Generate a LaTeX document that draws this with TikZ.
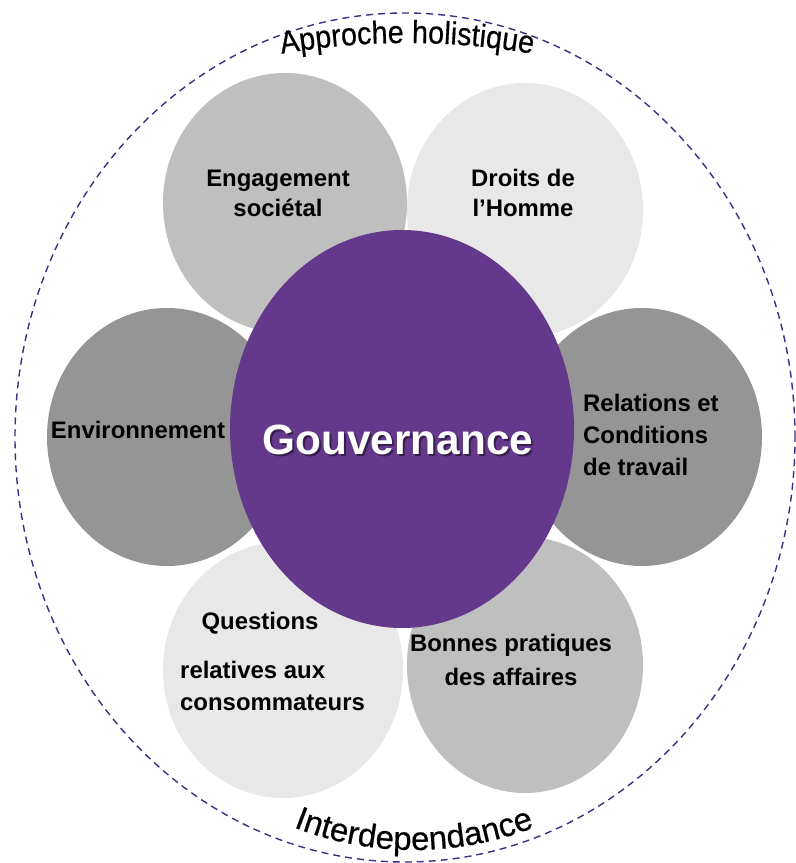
\documentclass[tikz,border=0pt]{standalone}
\usepackage{fontspec}
\setmainfont{Liberation Sans}
\newfontfamily\arcfont[FakeStretch=0.9, FakeBold=0.5]{Liberation Sans}
\newfontfamily\arcwidefont[FakeBold=0.5]{Liberation Sans}
\usetikzlibrary{shapes.geometric,decorations.text}

\definecolor{ringPurple}{HTML}{3F2D85}
\definecolor{gouvPurple}{HTML}{64388B}
\definecolor{midGray}{HTML}{BFBFBF}
\definecolor{paleGray}{HTML}{E8E8E8}
\definecolor{darkGray}{HTML}{959595}

\begin{document}
\begin{tikzpicture}[x=1bp,y=1bp]

    \tikzset{
      petal/.style={
        ellipse,
        draw=none,
        inner sep=0pt,
        minimum width=240bp,
        minimum height=258bp,
      },
      petaltext/.style={
        inner sep=0pt,
        text=black,
        font=\bfseries\fontsize{24}{30}\selectfont,
      },
    }
    \useasboundingbox (0,0) rectangle (796,863);

	% outer ring and its curved titles
	\draw[color={ringPurple}, line width=1.4bp, dash pattern=on 7bp off 5bp] (405,425.5) ellipse [x radius=390bp, y radius=424.5bp];
	\path[decorate, decoration={text along path, text align=center,
	  text={|\arcfont\fontsize{32}{32}\selectfont|Approche holistique}}]
	  (407,92) ++(110:728bp) arc[start angle=110, end angle=70, radius=728bp];
	\path[decorate, decoration={text along path, text align=center,
	  text={|\arcwidefont\fontsize{33}{33}\selectfont|Interdependance}}]
	  (414,343) ++(235:330bp) arc[start angle=235, end angle=305, radius=330bp];

	% the six petals
	\node[petal, fill=midGray, minimum width=244bp, minimum height=260bp] (engagement) at (285,660) {};
	\node[petal, fill=paleGray, minimum width=236bp, minimum height=254bp] (droits) at (525,653) {};
	\node[petal, fill=darkGray] (environnement) at (167,426) {};
	\node[petal, fill=darkGray] (relations) at (642,426) {};
	\node[petal, fill=paleGray, minimum height=256bp] (questions) at (283,193) {};
	\node[petal, fill=midGray, minimum width=236bp, minimum height=256bp] (bonnes) at (525,198) {};

	% centre
	\node[ellipse, fill=gouvPurple, inner sep=0pt, minimum width=344bp, minimum height=398bp] (gouvernance) at (402,434) {};
	\node[inner sep=0pt, text=black, opacity=0.45, font=\bfseries\fontsize{42.5}{42.5}\selectfont] (gouvShadow) at (400,421) {Gouvernance};
	\node[inner sep=0pt, text=white, font=\bfseries\fontsize{42.5}{42.5}\selectfont] (gouvText) at (398,423) {Gouvernance};

	\node[petaltext, align=center] (engagementText) at (278,670) {Engagement\\soci\'etal};
	\node[petaltext, align=center] (droitsText) at (523,670) {Droits de\\l’Homme};
	\node[petaltext] (environnementText) at (138,433) {Environnement};
	\node[petaltext, align=left, anchor=west, font=\bfseries\fontsize{24}{32.5}\selectfont] (relationsText) at (583,428) {Relations et\\Conditions\\de travail};
	\node[petaltext] (questionsText) at (260,240) {Questions};
	\node[petaltext, align=left, anchor=west, font=\bfseries\fontsize{24}{32}\selectfont] (consoText) at (180,177) {relatives aux\\consommateurs};
	\node[petaltext, align=center, font=\bfseries\fontsize{24}{34}\selectfont] (bonnesText) at (511,203) {Bonnes pratiques\\des affaires};

\end{tikzpicture}
\end{document}
